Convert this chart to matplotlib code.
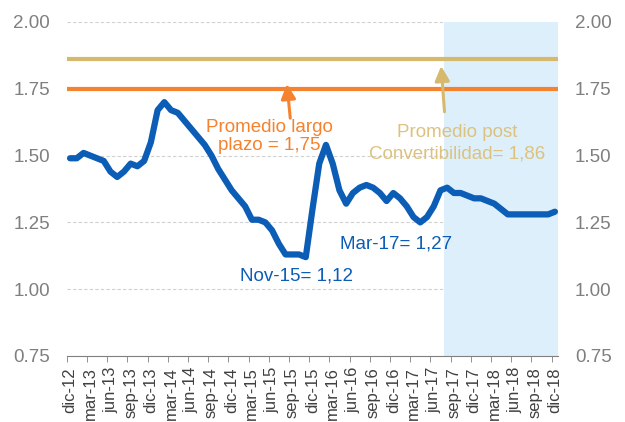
import matplotlib
matplotlib.use("Agg")
import matplotlib.pyplot as plt
import numpy as np

plt.rcParams['font.family'] = ['Liberation Sans', 'DejaVu Sans']

# Data: monthly series dic-12 .. dic-18
values = [1.49, 1.49, 1.51, 1.50, 1.49, 1.48, 1.44, 1.42, 1.44, 1.47,
          1.46, 1.48, 1.55, 1.67, 1.70, 1.67, 1.66, 1.63, 1.60, 1.57,
          1.54, 1.50, 1.45, 1.41, 1.37, 1.34, 1.31, 1.26, 1.26, 1.25,
          1.22, 1.17, 1.13, 1.13, 1.13, 1.12, 1.30, 1.47, 1.54, 1.47,
          1.37, 1.32, 1.36, 1.38, 1.39, 1.38, 1.36, 1.33, 1.36, 1.34,
          1.31, 1.27, 1.25, 1.27, 1.31, 1.37, 1.38, 1.36, 1.36, 1.35,
          1.34, 1.34, 1.33, 1.32, 1.30, 1.28, 1.28, 1.28, 1.28, 1.28,
          1.28, 1.28, 1.29]
tick_labels = ["dic-12", "mar-13", "jun-13", "sep-13", "dic-13", "mar-14", "jun-14",
               "sep-14", "dic-14", "mar-15", "jun-15", "sep-15", "dic-15", "mar-16",
               "jun-16", "sep-16", "dic-16", "mar-17", "jun-17", "sep-17", "dic-17",
               "mar-18", "jun-18", "sep-18", "dic-18"]
avg_long = 1.75
avg_post = 1.86
shade_start = 55.5  # ago-17

BLUE = "#0B5DB5"
ORANGE = "#F5822E"
GOLD = "#D6B96C"
GOLD_TXT = "#DCC27E"

fig = plt.figure(figsize=(6.25, 4.22), dpi=100)
ax = fig.add_axes([0.1067, 0.1564, 0.7866, 0.7915])
x = np.arange(len(values))

ax.axvspan(shade_start, len(values) - 0.5, color="#DDEFFB", zorder=1, lw=0)
ax.axhline(avg_post, color=GOLD, lw=3, zorder=3)
ax.axhline(avg_long, color=ORANGE, lw=3, zorder=3)
ax.plot(x, values, color=BLUE, lw=4.5, solid_capstyle='round', solid_joinstyle='round', zorder=4)

ax.set_xlim(-0.5, len(values) - 0.5)
ax.set_ylim(0.75, 2.0)
yt = [0.75, 1.00, 1.25, 1.50, 1.75, 2.00]
ax.set_yticks(yt)
ax.set_yticklabels([f"{v:.2f}" for v in yt])
ax.grid(axis='y', color='#D0D0D0', ls=(0, (3, 2)), lw=0.8, zorder=0)
ax.set_axisbelow(True)

ax.set_xticks(x[::3])
ax.set_xticklabels(tick_labels, rotation=90, fontsize=12, color='#404040')
ax.set_xticks(x[::3] - 0.5, minor=True)
ax.tick_params(axis='x', which='major', length=0, pad=8)
ax.tick_params(axis='x', which='minor', length=4.5, color='#808080', direction='out')
ax.tick_params(axis='y', length=0, labelsize=13.5, labelcolor='#7F7F7F', pad=12,
               right=False, labelright=True)
for s in ['top', 'left', 'right']:
    ax.spines[s].set_visible(False)
ax.spines['bottom'].set_color('#808080')
ax.spines['bottom'].set_zorder(5)

ax.annotate("", xy=(32.2, 1.768), xytext=(32.7, 1.64),
            arrowprops=dict(arrowstyle='-|>', color=ORANGE, lw=2.2, mutation_scale=22,
                            shrinkA=0, shrinkB=0), zorder=5)
ax.text(29.6, 1.572, "Promedio largo\nplazo = 1,75", color=ORANGE, fontsize=13.5,
        ha='center', va='center', linespacing=1.1, zorder=6)

ax.annotate("", xy=(55.1, 1.835), xytext=(55.6, 1.664),
            arrowprops=dict(arrowstyle='-|>', color=GOLD, lw=2.2, mutation_scale=22,
                            shrinkA=0, shrinkB=0), zorder=5)
ax.text(57.5, 1.547, "Promedio post\nConvertibilidad= 1,86", color=GOLD_TXT, fontsize=13.5,
        ha='center', va='center', linespacing=1.35, zorder=6)

ax.text(33.6, 1.05, "Nov-15= 1,12", color=BLUE, fontsize=13.5, ha='center', va='center', zorder=6)
ax.text(48.4, 1.17, "Mar-17= 1,27", color=BLUE, fontsize=13.5, ha='center', va='center', zorder=6)

fig.savefig("out.png", dpi=100)
